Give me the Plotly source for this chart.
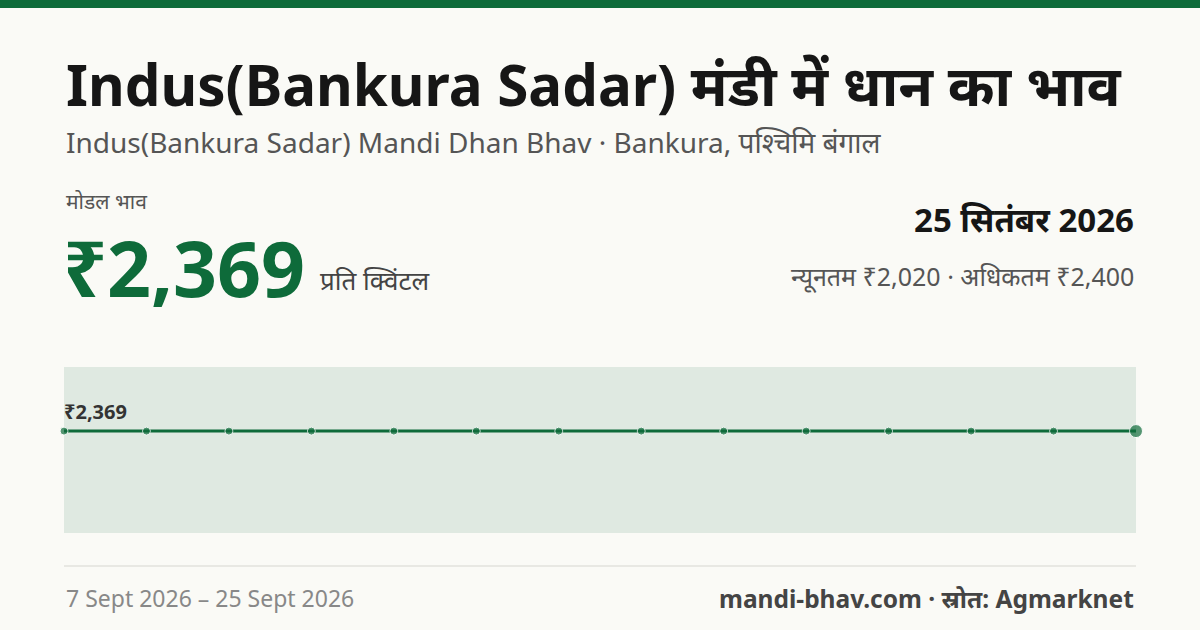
import plotly.graph_objects as go

dates = ["7 Sept","8 Sept","9 Sept","11 Sept","12 Sept","13 Sept","15 Sept","16 Sept","18 Sept","19 Sept","20 Sept","22 Sept","23 Sept","25 Sept"]
prices = [2369]*14
title = "Indus(Bankura Sadar) मंडी में धान का भाव"
subtitle = "Indus(Bankura Sadar) Mandi Dhan Bhav · Bankura, पश्चिमि बंगाल"
modal = "₹2,369"
date_label = "25 सितंबर 2026"
minmax = "न्यूनतम ₹2,020 · अधिकतम ₹2,400"
period = "7 Sept 2026 – 25 Sept 2026"
source = "mandi-bhav.com · स्रोत: Agmarknet"

GREEN = "#0e6b3a"
F = "Noto Sans, Noto Sans Devanagari, sans-serif"
T, B, H = 367, 533, 166
def py(p): return (B - p) / H
def px(p): return (p - 64) / 1072

n = len(dates)
fig = go.Figure()
fig.add_trace(go.Scatter(x=list(range(n)), y=prices, mode="lines+markers", cliponaxis=False,
    line=dict(color=GREEN, width=3),
    marker=dict(color=GREEN, size=[8]*(n-1)+[13]), hoverinfo="skip"))
fig.add_annotation(x=0, y=prices[0], xref="x", yref="y", text="<b>"+modal+"</b>", showarrow=False,
    xanchor="left", yanchor="bottom", yshift=4, xshift=-2, font=dict(family=F, size=20, color="#333"))

anns = [
    (title, 64, 84, 56.5, "#161616", "left", True),
    (subtitle, 64, 142, 28, "#555", "left", False),
    ("मोडल भाव", 64, 201, 21, "#555", "left", False),
    (modal, 61, 267, 77, GREEN, "left", True),
    ("प्रति क्विंटल", 318, 280, 26, "#444", "left", False),
    (date_label, 1136, 219, 33, "#161616", "right", True),
    (minmax, 1136, 276, 25, "#555", "right", False),
    (period, 64, 598, 23, "#888", "left", False),
    (source, 1136, 598, 24.5, "#444", "right", True),
]
for t, x, y, s, c, xa, b in anns:
    fig.add_annotation(x=px(x), y=py(y), xref="paper", yref="paper", text=("<b>%s</b>" % t) if b else t,
        showarrow=False, xanchor=xa, yanchor="middle", font=dict(family=F, size=s, color=c))

fig.add_shape(type="rect", xref="paper", yref="paper", x0=px(-10), x1=px(1210), y0=py(0), y1=py(8),
    fillcolor=GREEN, line_width=0, layer="above")
fig.add_shape(type="line", xref="paper", yref="paper", x0=0, x1=1, y0=py(566), y1=py(566),
    line=dict(color="#e2e2dc", width=1.5))

R = 100
fig.update_layout(width=1200, height=630, margin=dict(l=64, r=64, t=T, b=630-B),
    paper_bgcolor="#fafaf6", plot_bgcolor="#dfe9e1", showlegend=False,
    xaxis=dict(range=[0, n-1], visible=False, fixedrange=True),
    yaxis=dict(range=[2369-0.614*R, 2369+0.386*R], visible=False))
fig.write_html("out.html", config={"displayModeBar": False},
    post_script="document.body.style.margin='0';document.body.style.background='#fafaf6';")
